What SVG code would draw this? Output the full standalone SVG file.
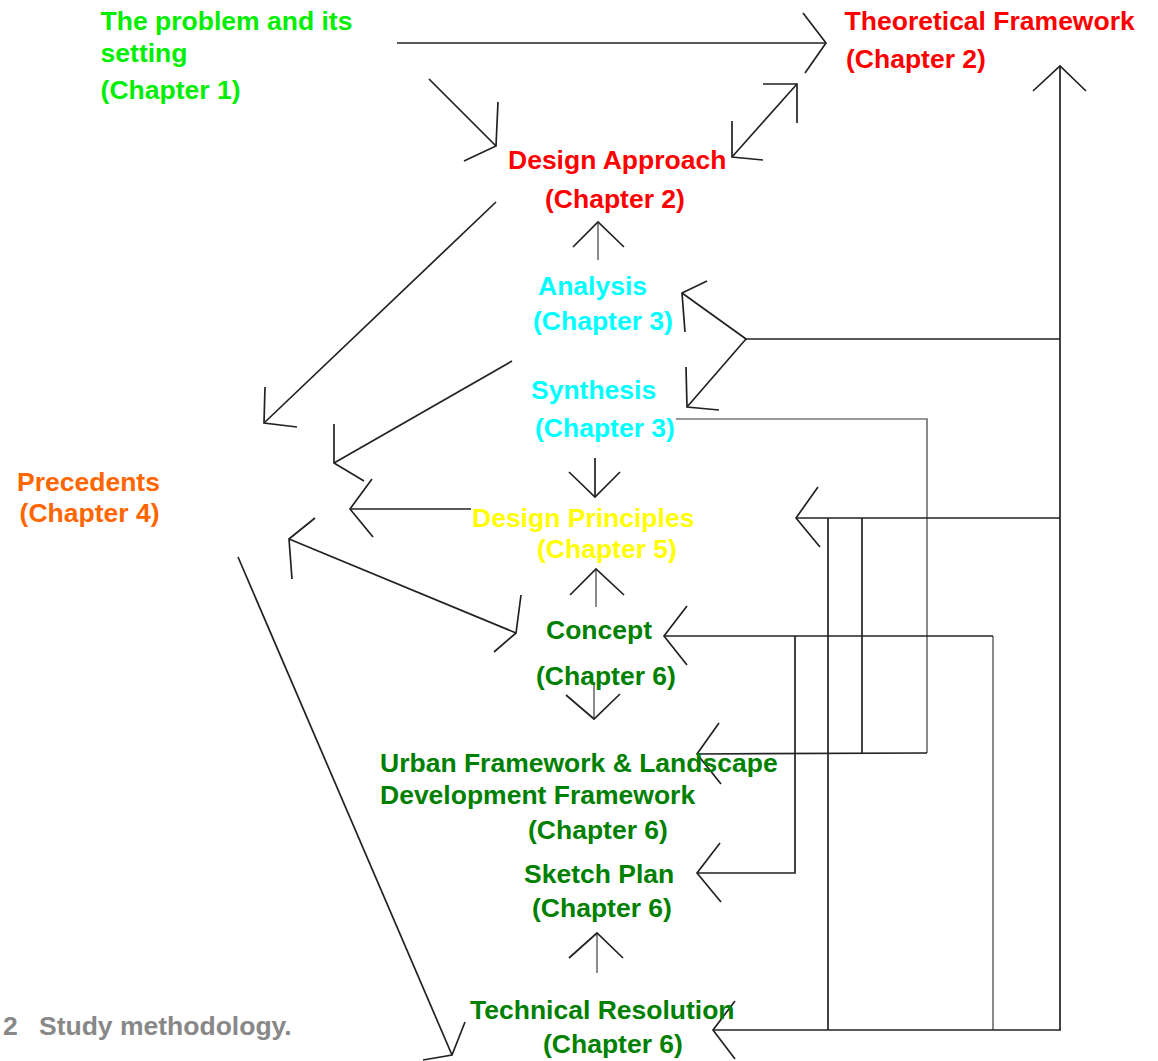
<svg xmlns="http://www.w3.org/2000/svg" width="1158" height="1061" viewBox="0 0 1158 1061">
<style>
text{font-family:"Liberation Sans",Arial,sans-serif;font-weight:bold;font-size:26.5px}
.lg{fill:#00ee00}.rd{fill:#ff0000}.cy{fill:#00ffff}.ye{fill:#ffff00}.or{fill:#ff6600}.dg{fill:#008000}.gy{fill:#888888}
.c line,.c polyline{fill:none;stroke:#222;stroke-width:1.7;stroke-linejoin:miter}
.c .s{stroke:#777}
</style>
<rect width="1158" height="1061" fill="#ffffff"/>
<g id="connectors" class="c">
<line x1="397" y1="43" x2="826" y2="43"/><polyline points="803,13 826,43 805,73"/>
<line x1="429" y1="79" x2="496" y2="146"/><polyline points="498,102 496,146 464,161"/>
<line x1="732" y1="157" x2="797" y2="84"/><polyline points="732,121 732,157 763,160"/><polyline points="763,84 797,84 797,123"/>
<line class="s" x1="598" y1="260" x2="598" y2="222"/><polyline points="573,247 598,222 624,247"/>
<line x1="496" y1="202" x2="264" y2="423"/><polyline points="265,387 264,423 297,427"/>
<polyline points="707,281 682,293 685,332"/><polyline points="682,293 746,339 687,407"/><polyline points="686,367 687,407 719,410"/>
<line x1="746" y1="339" x2="1060" y2="339"/>
<line x1="1060" y1="66" x2="1060" y2="1030"/><polyline points="1033,91 1060,66 1086,91"/>
<line x1="512" y1="361" x2="334" y2="463"/><polyline points="334,424 334,463 364,481"/>
<line x1="595" y1="458" x2="595" y2="497"/><polyline points="569,472 595,497 620,472"/>
<line x1="471" y1="509" x2="350" y2="509"/><polyline points="372,479 350,509 373,537"/>
<polyline class="s" points="676,419 927,419 927,753"/>
<line x1="1060" y1="518" x2="796" y2="518"/><polyline points="818,487 796,518 820,547"/>
<line x1="828" y1="518" x2="828" y2="1030"/>
<line x1="862" y1="518" x2="862" y2="753"/>
<line x1="289" y1="539" x2="516" y2="633"/><polyline points="315,518 289,539 292,579"/><polyline points="521,595 516,633 494,652"/>
<line class="s" x1="596" y1="607" x2="596" y2="569"/><polyline points="570,595 596,569 624,595"/>
<polyline class="s" points="993,1030 993,636"/><polyline points="993,636 664,636"/><polyline points="687,606 664,636 687,665"/>
<polyline points="795,636 795,873 697,873"/><polyline points="720,843 697,873 721,902"/>
<line class="s" x1="594" y1="682" x2="594" y2="719"/><polyline points="566,695 594,719 620,694"/>
<line x1="927" y1="753" x2="697" y2="754"/><polyline points="719,723 697,754 721,784"/>
<line class="s" x1="597" y1="973" x2="597" y2="933"/><polyline points="569,958 597,933 623,958"/>
<line x1="1061" y1="1030" x2="713" y2="1030"/><polyline points="735,1001 713,1030 735,1059"/>
<line x1="238" y1="557" x2="452" y2="1055"/><polyline points="465,1022 452,1055 423,1060"/>
</g>
<g id="problem"><text class="lg" x="100.6" y="30">The problem and its</text><text class="lg" x="100.6" y="62">setting</text><text class="lg" x="100.6" y="99">(Chapter 1)</text></g>
<g id="theoretical"><text class="rd" x="844.6" y="30">Theoretical Framework</text><text class="rd" x="846" y="68">(Chapter 2)</text></g>
<g id="design-approach"><text class="rd" x="508" y="169">Design Approach</text><text class="rd" x="545" y="208">(Chapter 2)</text></g>
<g id="analysis"><text class="cy" x="538" y="295">Analysis</text><text class="cy" x="533" y="330">(Chapter 3)</text></g>
<g id="synthesis"><text class="cy" x="531" y="399">Synthesis</text><text class="cy" x="535" y="437">(Chapter 3)</text></g>
<g id="precedents"><text class="or" x="17" y="491">Precedents</text><text class="or" x="19.6" y="522">(Chapter 4)</text></g>
<g id="design-principles"><text class="ye" x="472" y="527">Design Principles</text><text class="ye" x="537" y="558">(Chapter 5)</text></g>
<g id="concept"><text class="dg" x="546" y="639">Concept</text><text class="dg" x="536" y="685">(Chapter 6)</text></g>
<g id="urban"><text class="dg" x="380" y="772">Urban Framework &amp; Landscape</text><text class="dg" x="380" y="804">Development Framework</text><text class="dg" x="528" y="839">(Chapter 6)</text></g>
<g id="sketch"><text class="dg" x="524" y="883">Sketch Plan</text><text class="dg" x="532" y="917">(Chapter 6)</text></g>
<g id="technical"><text class="dg" x="470" y="1019">Technical Resolution</text><text class="dg" x="543" y="1053">(Chapter 6)</text></g>
<g id="caption"><text class="gy" x="3" y="1035">2</text><text class="gy" x="39" y="1035">Study methodology.</text></g>
</svg>
